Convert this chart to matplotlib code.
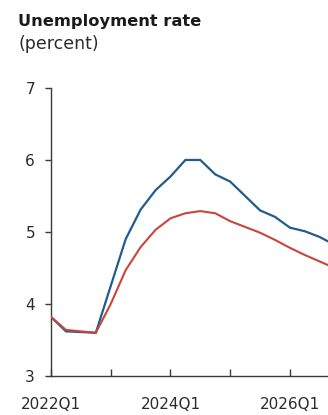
import matplotlib
matplotlib.use("Agg")
import matplotlib.pyplot as plt

plt.rcParams['font.family'] = ['DejaVu Sans']

# Quarterly index starting 2022Q1
quarters = list(range(20))
tick_positions = [0, 4, 8, 12, 16]
tick_labels = ["2022Q1", "", "2024Q1", "", "2026Q1"]

blue_series = [3.82, 3.62, 3.61, 3.60, 4.25, 4.90, 5.31, 5.58, 5.77, 6.00,
               6.00, 5.80, 5.70, 5.50, 5.30, 5.21, 5.06, 5.01, 4.93, 4.82]
red_series = [3.82, 3.64, 3.62, 3.60, 4.00, 4.47, 4.79, 5.03, 5.19, 5.26,
              5.29, 5.26, 5.15, 5.07, 4.99, 4.89, 4.78, 4.68, 4.59, 4.50]

fig = plt.figure(figsize=(3.28, 4.15), dpi=100)
ax = fig.add_axes([0.1555, 0.094, 0.8445, 0.694])

ax.plot(quarters, red_series, color="#c8453b", lw=1.5, solid_joinstyle="miter", zorder=3)
ax.plot(quarters, blue_series, color="#215c8e", lw=1.6, solid_joinstyle="miter", zorder=2)

ax.set_xlim(0, 18.55)
ax.set_ylim(3, 7)
ax.set_yticks([3, 4, 5, 6, 7])
ax.set_xticks(tick_positions)
ax.set_xticklabels(tick_labels)

for side in ("top", "right"):
    ax.spines[side].set_visible(False)
for side in ("left", "bottom"):
    ax.spines[side].set_color("#3a3a3a")
    ax.spines[side].set_linewidth(1.0)

ax.tick_params(axis="y", direction="out", length=4.5, width=1.0, color="#3a3a3a",
               labelsize=11, labelcolor="#2b2b2b", pad=7)
ax.tick_params(axis="x", direction="in", length=5, width=1.0, color="#3a3a3a",
               labelsize=11, labelcolor="#2b2b2b", pad=15)

fig.text(18 / 328, 1 - 26 / 415, "Unemployment rate", fontsize=11.7, fontweight="bold",
         color="#1a1a1a", va="baseline", ha="left")
fig.text(18 / 328, 1 - 49 / 415, "(percent)", fontsize=12.5, color="#2b2b2b",
         va="baseline", ha="left")

fig.savefig("out.png", dpi=100)
